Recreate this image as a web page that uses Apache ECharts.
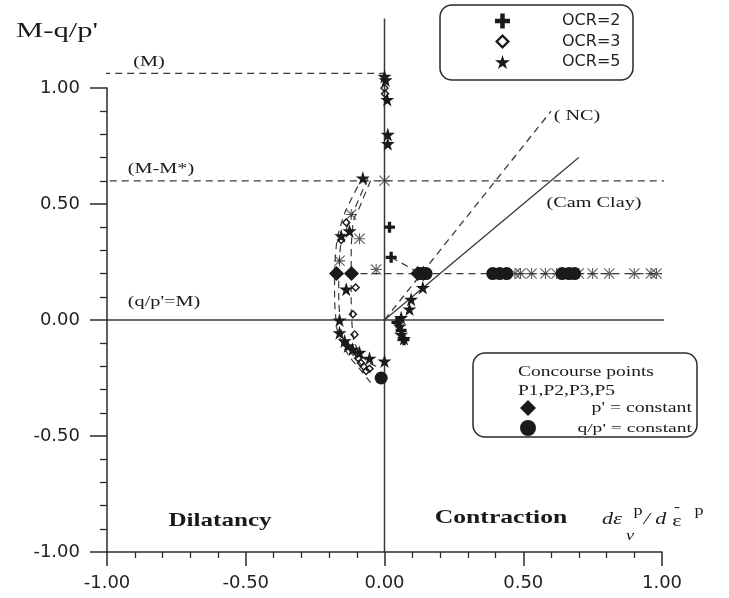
<!DOCTYPE html>
<html>
<head>
<meta charset="utf-8">
<script src="https://cdn.jsdelivr.net/npm/echarts@6/dist/echarts.min.js"></script>
<style>
  html, body { margin: 0; padding: 0; background: #ffffff; }
  #chart { width: 729px; height: 598px; }
</style>
</head>
<body>
<div id="chart"></div>
<script>
// Axis range and tick labels
const axisMin = -1;
const axisMax = 1;
const axisStep = 0.5;
const tickLabels = ['-1.00', '-0.50', '0.00', '0.50', '1.00'];

// Measured points, [dεv/dε, M - q/p']
const ocr2Points = [
  [0.018, 0.40], [0.024, 0.27],
  [0.045, -0.01], [0.06, -0.045], [0.07, -0.085]
];
const ocr3Points = [
  [0.0, 1.00], [0.002, 0.975],
  [-0.138, 0.42], [-0.156, 0.345], [-0.104, 0.14], [-0.114, 0.025],
  [-0.108, -0.062], [-0.102, -0.14], [-0.095, -0.165], [-0.085, -0.185],
  [-0.075, -0.20], [-0.066, -0.22], [-0.054, -0.21]
];
const ocr5Points = [
  [0.0, 1.05], [0.004, 1.035], [0.01, 0.95], [0.012, 0.80], [0.012, 0.76],
  [-0.078, 0.612], [-0.126, 0.384], [-0.156, 0.363], [-0.138, 0.133],
  [-0.162, 0.0], [-0.162, -0.055], [-0.144, -0.09], [-0.132, -0.112],
  [-0.115, -0.126], [-0.09, -0.14], [-0.054, -0.165], [0.0, -0.177],
  [0.138, 0.14], [0.096, 0.089], [0.09, 0.047], [0.06, 0.01],
  [0.055, -0.026], [0.06, -0.062], [0.07, -0.08]
];
const asteriskPoints = [
  [0.0, 0.60], [-0.12, 0.455], [-0.09, 0.35], [-0.162, 0.255], [-0.03, 0.218],
  [0.47, 0.2], [0.49, 0.2], [0.53, 0.2], [0.58, 0.2], [0.62, 0.2],
  [0.70, 0.2], [0.75, 0.2], [0.81, 0.2], [0.90, 0.2], [0.96, 0.2], [0.98, 0.2]
];
// Concourse points
const pConstPoints = [[-0.173, 0.2], [-0.119, 0.2], [0.12, 0.2], [0.14, 0.2]];
const qpConstPoints = [
  [0.13, 0.2], [0.15, 0.2], [0.39, 0.2], [0.415, 0.2], [0.44, 0.2],
  [0.64, 0.2], [0.665, 0.2], [0.685, 0.2], [-0.012, -0.25]
];

// Reference lines
const levelM = 1.063;
const levelMMstar = 0.6;
const levelConc = 0.2;
const lineM = [[-1.10, levelM], [0.0, levelM]];
const lineMMstar = [[-0.99, levelMMstar], [1.12, levelMMstar]];
const lineConc = [[-0.173, levelConc], [1.0, levelConc]];
const lineZeroH = [[-1.0, 0], [1.16, 0]];
const lineZeroV = [[0, -1.0], [0, 1.30]];
const lineNC = [[0, 0], [0.60, 0.90]];
const lineCamClay = [[0, 0], [0.70, 0.70]];
const lineOcr2Path = [[0.024, 0.27], [0.13, 0.2]];

// Stress-dilatancy loops
const loopOuter = [
  [-0.075, 0.62], [-0.12, 0.52], [-0.155, 0.42], [-0.175, 0.30], [-0.18, 0.15],
  [-0.175, 0.0], [-0.16, -0.08], [-0.13, -0.15], [-0.09, -0.21], [-0.05, -0.27]
];
const loopMiddle = [
  [-0.06, 0.61], [-0.10, 0.50], [-0.135, 0.40], [-0.16, 0.30], [-0.165, 0.15],
  [-0.16, 0.0], [-0.14, -0.10], [-0.10, -0.17], [-0.06, -0.22]
];
const loopInner = [
  [-0.05, 0.60], [-0.085, 0.50], [-0.115, 0.40], [-0.12, 0.25], [-0.12, 0.10],
  [-0.115, -0.05], [-0.10, -0.12], [-0.07, -0.17], [-0.03, -0.20]
];

const INK = '#1a1a1a';
const LINE = '#3a3a3a';
const SERIF = '"Liberation Serif", "Times New Roman", serif';
const SANS = '"DejaVu Sans", sans-serif';

const starPath = 'path://M50,0 L61,35 L98,35 L68,57 L79,91 L50,70 L21,91 L32,57 L2,35 L39,35 Z';
const plusPath = 'path://M35,0H65V35H100V65H65V100H35V65H0V35H35Z';
const asteriskPath = 'path://M45,0H55V100H45Z M0,45H100V55H0Z M7,0L100,93L93,100L0,7Z M93,0L100,7L7,100L0,93Z';
const hollowDiamondPath = 'path://M50,0L100,50L50,100L0,50Z M50,22L22,50L50,78L78,50Z';

function guide(data, dashed, width, extra) {
  return Object.assign({
    type: 'line',
    data: data,
    symbol: 'none',
    silent: true,
    clip: false,
    animation: false,
    z: 1,
    lineStyle: { color: LINE, width: width || 1.3, type: dashed ? [7, 5] : 'solid' }
  }, extra || {});
}

function scatter(name, data, symbol, size, extra) {
  return Object.assign({
    name: name,
    type: 'scatter',
    data: data,
    symbol: symbol,
    symbolSize: size,
    clip: false,
    animation: false,
    z: 5,
    itemStyle: { color: INK, opacity: 1 }
  }, extra || {});
}

function label(text, x, y, font, sx, align) {
  return {
    type: 'text',
    x: x, y: y,
    scaleX: sx,
    silent: true,
    style: {
      text: text,
      x: 0, y: 0,
      font: font,
      fill: INK,
      align: align || 'center',
      verticalAlign: 'middle'
    }
  };
}

const chart = echarts.init(document.getElementById('chart'), null, { renderer: 'canvas' });

chart.setOption({
  backgroundColor: '#ffffff',
  animation: false,
  grid: {
    left: 107, right: 67, top: 88, bottom: 46,
    containLabel: false,
    outerBoundsMode: 'none'
  },
  xAxis: {
    type: 'value',
    min: axisMin, max: axisMax, interval: axisStep,
    axisLine: { show: true, onZero: false, lineStyle: { color: '#2a2a2a', width: 1.5 } },
    axisTick: { show: true, inside: false, length: 14, lineStyle: { color: '#2a2a2a', width: 1.5 } },
    minorTick: { show: true, splitNumber: 5, length: 6, lineStyle: { color: '#2a2a2a', width: 1.3 } },
    splitLine: { show: false },
    minorSplitLine: { show: false },
    axisLabel: {
      margin: 22,
      color: '#222',
      fontFamily: SANS,
      fontSize: 18,
      formatter: v => tickLabels[Math.round((v - axisMin) / axisStep)]
    }
  },
  yAxis: {
    type: 'value',
    min: axisMin, max: axisMax, interval: axisStep,
    axisLine: { show: true, onZero: false, lineStyle: { color: '#2a2a2a', width: 1.5 } },
    axisTick: { show: true, inside: false, length: 17, lineStyle: { color: '#2a2a2a', width: 1.5 } },
    minorTick: { show: true, splitNumber: 5, length: 7, lineStyle: { color: '#2a2a2a', width: 1.3 } },
    splitLine: { show: false },
    minorSplitLine: { show: false },
    axisLabel: {
      margin: 27,
      color: '#222',
      fontFamily: SANS,
      fontSize: 18,
      formatter: v => tickLabels[Math.round((v - axisMin) / axisStep)]
    }
  },
  legend: [
    {
      orient: 'vertical',
      left: 495, top: 13,
      padding: 0,
      itemWidth: 15, itemHeight: 15, itemGap: 4.5,
      selectedMode: false,
      textStyle: { fontFamily: SANS, fontSize: 16, color: '#222', lineHeight: 15, padding: [0, 0, 0, 47] },
      data: [
        { name: 'OCR=2', icon: plusPath },
        { name: 'OCR=3', icon: hollowDiamondPath, itemStyle: { color: INK } },
        { name: 'OCR=5', icon: starPath }
      ]
    },
    {
      orient: 'vertical',
      left: 520, top: 400,
      padding: 0,
      itemWidth: 16, itemHeight: 16, itemGap: 4,
      selectedMode: false,
      formatter: () => '',
      textStyle: { fontSize: 12, lineHeight: 16 },
      data: [
        { name: "p' = constant", icon: 'diamond' },
        { name: "q/p' = constant", icon: 'circle' }
      ]
    }
  ],
  graphic: [
    // legend frames
    { type: 'rect', silent: true, shape: { x: 440, y: 5, width: 193, height: 75, r: 12 },
      style: { fill: 'none', stroke: '#2a2a2a', lineWidth: 1.5 } },
    { type: 'rect', silent: true, shape: { x: 473, y: 353, width: 224, height: 84, r: 12 },
      style: { fill: 'none', stroke: '#2a2a2a', lineWidth: 1.5 } },
    label('Concourse points', 518, 372, '15px ' + SERIF, 1.3, 'left'),
    label('P1,P2,P3,P5', 518, 391, '15px ' + SERIF, 1.3, 'left'),
    label("p' = constant", 692, 408, '15px ' + SERIF, 1.32, 'right'),
    label("q/p' = constant", 692, 428, '13.5px ' + SERIF, 1.45, 'right'),
    // vertical axis title
    label("M-q/p'", 57, 31, '22px ' + SERIF, 1.39),
    // reference line labels
    label('(M)', 149, 62, '15px ' + SERIF, 1.35),
    label('(M-M*)', 161, 169, '15px ' + SERIF, 1.35),
    label("(q/p'=M)", 164, 302, '15px ' + SERIF, 1.35),
    label('( NC)', 577, 116, '15px ' + SERIF, 1.35),
    label('(Cam Clay)', 594, 203, '15px ' + SERIF, 1.35),
    // region labels
    label('Dilatancy', 220, 521, 'bold 19px ' + SERIF, 1.32),
    label('Contraction', 501, 518, 'bold 19px ' + SERIF, 1.35),
    // horizontal axis title: dεv^p / dε̄^p
    label('dε', 612, 520, 'italic 17px ' + SERIF, 1.3),
    label('v', 630, 536, 'italic 14px ' + SERIF, 1.3),
    label('p', 638, 511, '14px ' + SERIF, 1.3),
    label('/ d', 655, 520, 'italic 17px ' + SERIF, 1.3),
    label('ε', 677, 522, '17px ' + SERIF, 1.3),
    label('-', 677, 507, '14px ' + SERIF, 1.3),
    label('p', 699, 511, '14px ' + SERIF, 1.3)
  ],
  series: [
    guide(lineZeroH, false, 1.5),
    guide(lineZeroV, false, 1.5),
    guide(lineM, true),
    guide(lineMMstar, true),
    guide(lineConc, true),
    guide(lineNC, true),
    guide(lineCamClay, false, 1.3),
    guide(lineOcr2Path, true),
    guide(loopOuter, true, 1.2, { smooth: 0.5 }),
    guide(loopMiddle, true, 1.2, { smooth: 0.5 }),
    guide(loopInner, true, 1.2, { smooth: 0.5 }),

    scatter('asterisk', asteriskPoints, asteriskPath, 11, { itemStyle: { color: '#333' } }),
    scatter("q/p' = constant", qpConstPoints, 'circle', 13),
    scatter("p' = constant", pConstPoints, 'diamond', 15),
    scatter('OCR=2', ocr2Points, plusPath, 11),
    scatter('OCR=3', ocr3Points, hollowDiamondPath, 9),
    scatter('OCR=5', ocr5Points, starPath, 14)
  ]
});
</script>
</body>
</html>
